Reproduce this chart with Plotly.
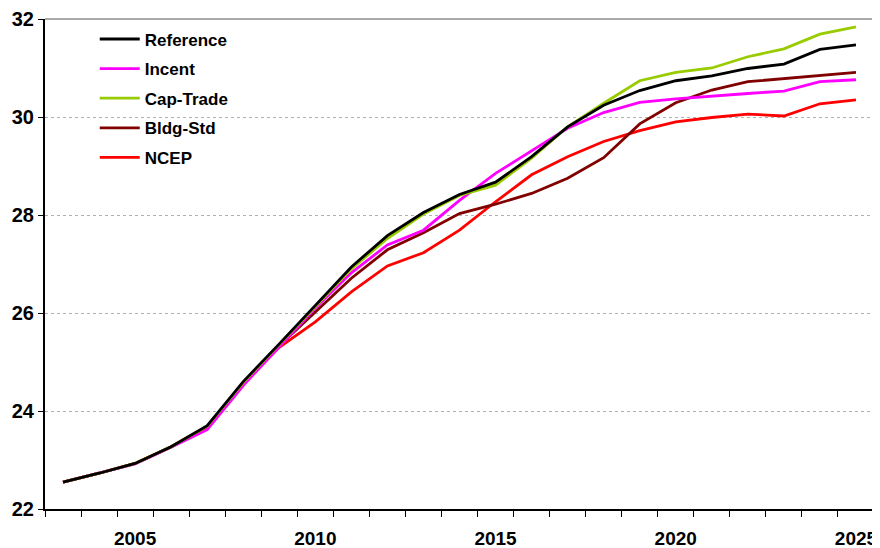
import plotly.graph_objects as go

years = list(range(2003, 2026))

reference = [22.55, 22.73, 22.93, 23.27, 23.70, 24.60, 25.37, 26.16, 26.94, 27.58, 28.05, 28.42, 28.67,
             29.19, 29.80, 30.24, 30.54, 30.74, 30.84, 30.99, 31.08, 31.38, 31.47]
incent = [22.55, 22.73, 22.92, 23.26, 23.62, 24.52, 25.31, 26.10, 26.82, 27.39, 27.69, 28.30, 28.85,
          29.31, 29.77, 30.09, 30.30, 30.37, 30.43, 30.48, 30.53, 30.72, 30.76]
cap_trade = [22.55, 22.73, 22.93, 23.27, 23.69, 24.58, 25.36, 26.14, 26.90, 27.52, 28.02, 28.40, 28.61,
             29.16, 29.80, 30.28, 30.74, 30.91, 31.00, 31.23, 31.39, 31.69, 31.84]
bldg_std = [22.55, 22.73, 22.93, 23.27, 23.68, 24.56, 25.33, 26.03, 26.71, 27.29, 27.64, 28.03, 28.22,
            28.44, 28.75, 29.17, 29.86, 30.29, 30.55, 30.72, 30.78, 30.84, 30.91]
ncep = [22.55, 22.73, 22.93, 23.27, 23.68, 24.56, 25.30, 25.82, 26.43, 26.96, 27.23, 27.69, 28.27,
        28.82, 29.19, 29.50, 29.72, 29.90, 29.99, 30.06, 30.02, 30.27, 30.35]

series = [
    ("Reference", reference, "#000000"),
    ("Incent", incent, "#FF00FF"),
    ("Cap-Trade", cap_trade, "#99CC00"),
    ("Bldg-Std", bldg_std, "#800000"),
    ("NCEP", ncep, "#FF0000"),
]
draw_order = ["NCEP", "Bldg-Std", "Incent", "Cap-Trade", "Reference"]

x_labels = [2005, 2010, 2015, 2020, 2025]
y_ticks = [22, 24, 26, 28, 30, 32]

fig = go.Figure()
for rank, (name, vals, col) in enumerate(series):
    fig.add_trace(go.Scatter(
        x=years, y=vals, mode="lines", name=name,
        line=dict(color=col, width=2.8),
        legendgroup=name, legendrank=rank + 1,
    ))
order = {n: i for i, n in enumerate(draw_order)}
fig.data = tuple(sorted(fig.data, key=lambda t: order[t.name]))

font = "Liberation Sans, Arial, sans-serif"
# the page body has an 8px default margin, so the figure is sized/margined to compensate
fig.update_layout(
    width=872, height=540,
    margin=dict(l=37, r=6, t=11, b=39),
    paper_bgcolor="white", plot_bgcolor="white",
    font=dict(family=font, size=17, color="black"),
    showlegend=True,
    legend=dict(
        x=0.06, y=0.995, xanchor="left", yanchor="top",
        bgcolor="rgba(0,0,0,0)",
        font=dict(family=font, size=17, color="black", weight="bold"),
        tracegroupgap=4.5, itemwidth=40,
        traceorder="grouped",
    ),
    xaxis=dict(
        range=[2002.5, 2025.5], automargin=False,
        tickvals=x_labels, ticktext=[str(v) for v in x_labels],
        ticks="", ticklabelstandoff=11,
        tickfont=dict(family=font, size=19, color="black", weight="bold"),
        showgrid=False, zeroline=False,
        showline=True, linecolor="black", linewidth=2, mirror=False,
        minor=dict(tickvals=[2002.5 + i for i in range(24)], ticks="outside",
                   ticklen=6, tickcolor="black", tickwidth=1, showgrid=False),
    ),
    yaxis=dict(
        range=[22, 32], automargin=False,
        tickvals=y_ticks,
        ticks="outside", ticklen=5, tickcolor="black", tickwidth=1,
        tickfont=dict(family=font, size=20, color="black", weight="bold"),
        showgrid=True, gridcolor="#b0b0b0", griddash="dot", gridwidth=1,
        zeroline=False,
        showline=True, linecolor="black", linewidth=2, mirror=False,
    ),
)
fig.add_shape(type="line", xref="paper", yref="paper", x0=0, x1=1, y0=1, y1=1,
              line=dict(color="#555555", width=1.2))
fig.add_shape(type="line", xref="paper", yref="paper", x0=1, x1=1, y0=0, y1=1,
              line=dict(color="#333333", width=1.5))

fig.write_html("out.html")
